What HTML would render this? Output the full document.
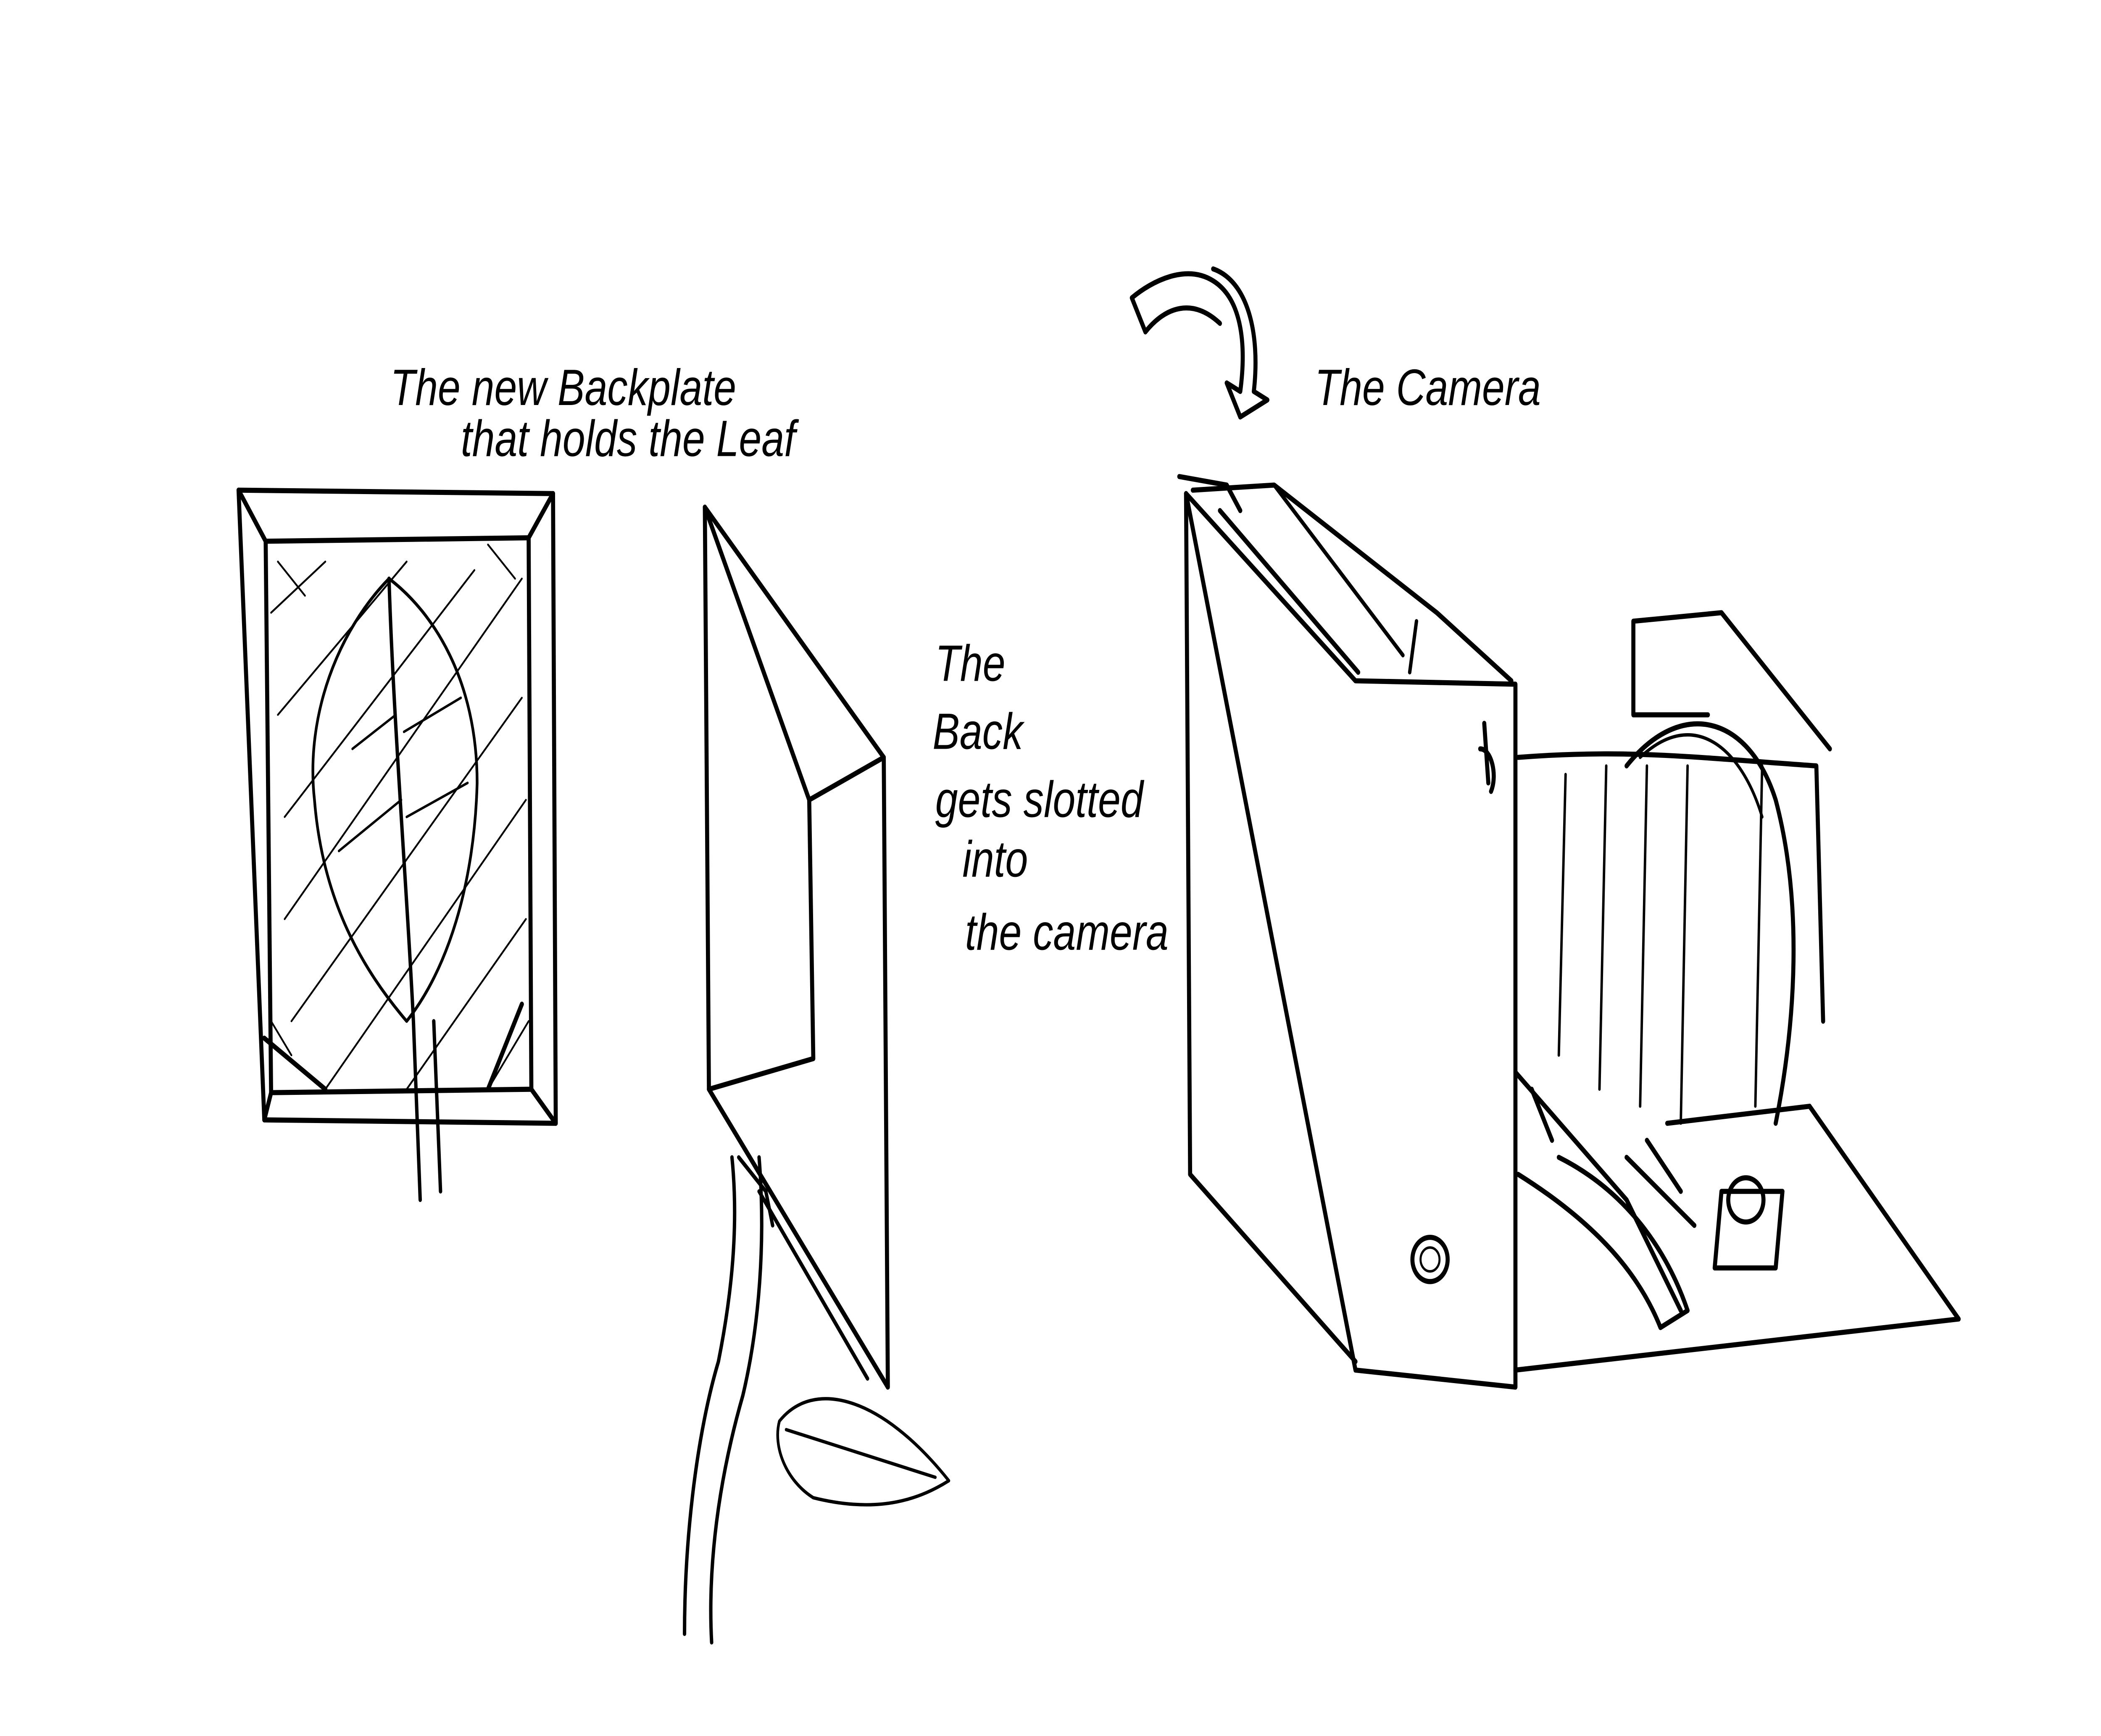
<!DOCTYPE html>
<html><head><meta charset="utf-8"><style>
html,body{margin:0;padding:0;background:#fff;width:100%;height:100%;overflow:hidden}
svg{display:block;position:absolute;left:0;top:0;width:100vw;height:100vh}
text{font-family:"Liberation Sans",sans-serif;fill:#000;font-style:italic}
</style></head><body>
<svg viewBox="0 0 1550 1020" preserveAspectRatio="none">
<g fill="none" stroke="#000" stroke-width="3" stroke-linecap="round" stroke-linejoin="round">
<path d="M176 288 L408 290 L410 660 L195 658 Z"/>
<path d="M196 318 L390 316 L392 640 L200 642 Z"/>
<path d="M176 288 L196 318 M408 290 L390 316 M410 660 L392 640 M195 658 L200 642"/>
<path d="M287 340 C250 370 225 420 232 470 C238 530 268 570 300 600 C330 570 350 520 352 460 C352 400 320 360 287 340 Z" stroke-width="2"/>
<path d="M287 340 C290 420 300 520 305 600 L310 705 M320 600 L325 700" stroke-width="2.5"/>
<path d="M292 420 L260 440 M296 470 L250 500 M298 430 L340 410 M300 480 L345 460" stroke-width="1.5"/>
<g stroke-width="1.2">
<path d="M200 360 L240 330 M205 420 L300 330 M210 480 L350 335 M210 540 L385 340 M215 600 L385 410 M240 640 L388 470 M300 640 L388 540 M360 640 L390 600"/>
<path d="M200 600 L215 620 M360 320 L380 340 M205 330 L225 350"/>
</g>
<path d="M195 610 L240 640 M385 590 L360 640" stroke-width="3"/>
<path d="M520 298 L523 640 L655 815 L652 445 Z"/>
<path d="M520 298 L597 470 L652 445 M597 470 L600 622 L523 640"/>
<path d="M540 680 C545 720 540 760 530 800 C515 840 505 900 505 960 M560 680 C565 730 560 780 548 820 C530 870 522 920 525 965" stroke-width="2.5"/>
<path d="M545 680 L565 700 L570 720 M560 700 L640 810" stroke-width="2.5"/>
<path d="M575 835 C600 810 650 820 700 870 C680 880 650 890 600 880 C580 870 570 850 575 835 Z M580 840 L690 868" stroke-width="2"/>
<path d="M875 290 L878 690 L1000 800"/>
<path d="M875 290 L1000 400 L1118 402 L1118 815 L1000 805 Z"/>
<path d="M900 300 L1002 395"/>
<path d="M880 288 L940 285 L1060 360 L1115 400"/>
<path d="M940 285 L1035 385 M1045 365 L1040 395" stroke-width="2.5"/>
<path d="M1095 425 L1098 460 M1092 440 C1100 440 1105 455 1100 465"/>
<circle cx="1055" cy="740" r="13"/>
<circle cx="1055" cy="740" r="7" stroke-width="1.5"/>
<path d="M1120 445 C1200 440 1250 445 1340 450 L1345 600"/>
<path d="M1155 455 L1150 620 M1185 450 L1180 640 M1215 450 L1210 650 M1245 450 L1240 660 M1300 450 L1295 650" stroke-width="1.8"/>
<path d="M1205 365 L1270 360 L1350 440 M1205 365 L1205 420 L1260 420"/>
<path d="M1200 450 C1240 410 1290 420 1310 470 C1330 530 1325 600 1310 660" stroke-width="3"/>
<path d="M1210 445 C1250 415 1285 440 1300 480" stroke-width="2"/>
<path d="M1118 805 L1445 775 L1335 650 L1230 660 M1118 630 L1200 705 L1240 770 M1130 640 L1145 670"/>
<path d="M1120 690 C1180 720 1210 750 1225 780 L1245 770 C1230 735 1200 700 1150 680"/>
<path d="M1265 745 L1270 700 L1315 700 L1310 745 Z"/>
<circle cx="1288" cy="705" r="13"/>
<path d="M1200 680 L1250 720 M1215 670 L1240 700"/>
<path d="M835 175 C850 165 875 155 895 165 C915 175 920 200 915 230 L905 225 L915 245 L935 235 L925 230 C930 195 920 165 895 158 M835 175 L845 195 C860 180 880 175 900 190"/>
<path d="M870 280 L905 285 L915 300"/>
</g>
<g font-size="30">
<text x="288" y="238">The new Backplate</text>
<text x="340" y="268">that holds the Leaf</text>
<text x="970" y="238">The Camera</text>
<text x="690" y="400">The</text>
<text x="688" y="440">Back</text>
<text x="690" y="480">gets slotted</text>
<text x="710" y="515">into</text>
<text x="712" y="558">the camera</text>
</g>
</svg>
</body></html>
